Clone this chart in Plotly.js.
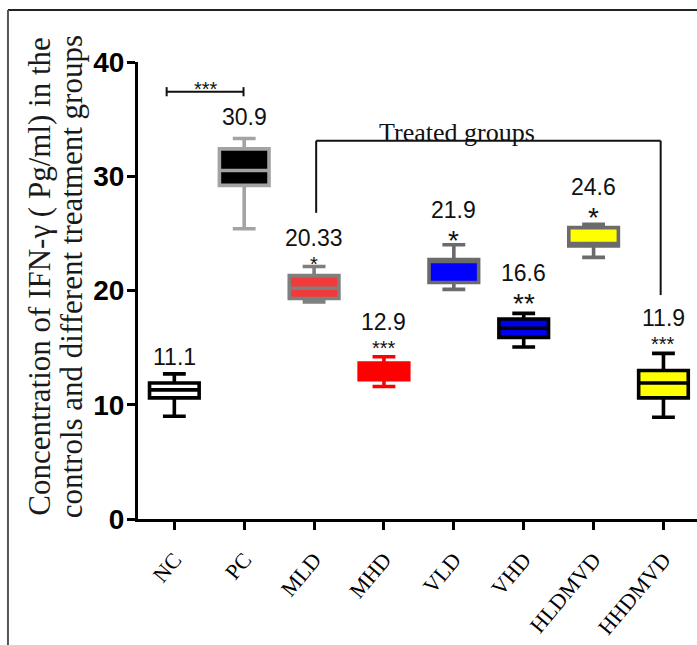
<!DOCTYPE html>
<html>
<head>
<meta charset="utf-8">
<script src="https://cdn.plot.ly/plotly-3.0.1.min.js"></script>
<style>
  html, body { margin: 0; padding: 0; background: #ffffff; }
  #chart { width: 697px; height: 645px; }
</style>
</head>
<body>
<div id="chart"></div>
<script>
// ---- Data ----
const categories   = ['NC', 'PC', 'MLD', 'MHD', 'VLD', 'VHD', 'HLDMVD', 'HHDMVD'];
const lowerWhisker = [9.0, 25.4, 19.0, 11.6, 20.1, 15.05, 22.9, 8.9];
const q1Values     = [10.6, 29.2, 19.3, 12.2, 20.7, 15.9, 23.9, 10.6];
const medianValues = [11.3, 30.5, 20.2, 12.9, 22.55, 16.7, 24.1, 11.9];
const q3Values     = [11.9, 32.4, 21.3, 13.65, 22.7, 17.5, 25.5, 13.0];
const upperWhisker = [12.7, 33.3, 22.1, 14.2, 24.0, 18.0, 25.8, 14.5];
const meanLabels   = ['11.1', '30.9', '20.33', '12.9', '21.9', '16.6', '24.6', '11.9'];
const starLabels   = ['', '', '*', '***', '*', '**', '*', '***'];
const yTickValues  = [0, 10, 20, 30, 40];

// ---- Styles and label placement ----
const fillColors = ['#ffffff', '#000000', '#f23a3a', '#ff0000', '#0000ff', '#0000ee', '#ffff00', '#ffff00'];
const lineColors = ['#000000', '#a3a3a3', '#7f7f7f', '#ff0000', '#6b6b6b', '#000000', '#6b6b6b', '#000000'];
// y where a label ends and its stars begin (or label centre when there are no stars)
const labelY     = [14.2, 35.2, 23.37, 16.02, 25.82, 20.31, 27.83, 16.37];
const starSize   = [0, 0, 20, 20, 28, 28, 28, 20];

const traces = categories.map((c, i) => ({
  type: 'box',
  x: [c],
  q1: [q1Values[i]],
  median: [medianValues[i]],
  q3: [q3Values[i]],
  lowerfence: [lowerWhisker[i]],
  upperfence: [upperWhisker[i]],
  width: 0.71,
  whiskerwidth: 0.46,
  fillcolor: fillColors[i],
  line: { color: lineColors[i], width: 3.6 },
  boxpoints: false,
  hoverinfo: 'skip',
  showlegend: false
}));

const valueFont = { family: 'Liberation Sans, Arial, sans-serif', size: 23, color: '#111111' };
const annotations = [];
categories.forEach((c, i) => {
  const hasStars = !!starLabels[i];
  annotations.push({
    x: c, y: labelY[i], xref: 'x', yref: 'y', text: meanLabels[i],
    showarrow: false, font: valueFont, xanchor: 'center',
    yanchor: hasStars ? 'bottom' : 'middle', borderpad: 0
  });
  if (hasStars) {
    annotations.push({
      x: c, y: labelY[i], xref: 'x', yref: 'y', text: starLabels[i],
      showarrow: false, xanchor: 'center', yanchor: 'top', borderpad: 0,
      font: { family: 'Liberation Sans, Arial, sans-serif', size: starSize[i], color: '#111111' }
    });
  }
});
// significance stars for PC vs NC bracket
annotations.push({
  x: 0.45, y: 37.6, xref: 'x', yref: 'y', text: '***', showarrow: false,
  xanchor: 'center', yanchor: 'middle', borderpad: 0,
  font: { family: 'Liberation Sans, Arial, sans-serif', size: 20, color: '#111111' }
});
// treated groups label
annotations.push({
  x: 4.05, y: 33.8, xref: 'x', yref: 'y', text: 'Treated groups', showarrow: false,
  xanchor: 'center', yanchor: 'middle', borderpad: 0,
  font: { family: 'Liberation Serif, Times New Roman, serif', size: 26, color: '#111111' }
});
// y axis title (two lines)
const titleFont = { family: 'Liberation Serif, Times New Roman, serif', size: 31, color: '#1a1a1a' };
annotations.push({
  x: -0.1753, y: 0.53, xref: 'paper', yref: 'paper', textangle: -90, showarrow: false,
  xanchor: 'center', yanchor: 'middle', text: 'Concentration of IFN-γ ( Pg/ml) in the', font: titleFont
});
annotations.push({
  x: -0.1190, y: 0.53, xref: 'paper', yref: 'paper', textangle: -90, showarrow: false,
  xanchor: 'center', yanchor: 'middle', text: 'controls and different treatment groups', font: titleFont
});

const shapes = [
  // NC vs PC bracket
  { type: 'line', xref: 'x', yref: 'y', x0: -0.11, x1: 0.99, y0: 37.4, y1: 37.4, line: { color: '#111', width: 2 } },
  { type: 'line', xref: 'x', yref: 'y', x0: -0.11, x1: -0.11, y0: 37.0, y1: 37.8, line: { color: '#111', width: 2 } },
  { type: 'line', xref: 'x', yref: 'y', x0: 0.99, x1: 0.99, y0: 37.0, y1: 37.8, line: { color: '#111', width: 2 } },
  // treated groups bracket
  { type: 'line', xref: 'x', yref: 'y', x0: 2.03, x1: 6.96, y0: 33.1, y1: 33.1, line: { color: '#111', width: 2 } },
  { type: 'line', xref: 'x', yref: 'y', x0: 2.03, x1: 2.03, y0: 33.1, y1: 26.8, line: { color: '#111', width: 2 } },
  { type: 'line', xref: 'x', yref: 'y', x0: 6.96, x1: 6.96, y0: 33.1, y1: 19.6, line: { color: '#111', width: 2 } },
  // outer frame (top and left)
  { type: 'line', xref: 'paper', yref: 'paper', x0: -0.2326, x1: 1.0, y0: 1.1138, y1: 1.1138, line: { color: '#222', width: 2 } },
  { type: 'line', xref: 'paper', yref: 'paper', x0: -0.2326, x1: -0.2326, y0: 1.1138, y1: -0.2757, line: { color: '#555', width: 2 } }
];

const layout = {
  width: 697,
  height: 645,
  margin: { l: 138, r: 0, t: 62, b: 126, pad: 0 },
  paper_bgcolor: '#ffffff',
  plot_bgcolor: '#ffffff',
  showlegend: false,
  xaxis: {
    type: 'category',
    categoryorder: 'array',
    categoryarray: categories,
    range: [-0.52, 7.48],
    showline: true, linecolor: '#000', linewidth: 3,
    ticks: 'outside', ticklen: 8, tickwidth: 3, tickcolor: '#000',
    tickangle: -50,
    ticklabelstandoff: 8,
    tickfont: { family: 'Liberation Serif, Times New Roman, serif', size: 22, color: '#000000' },
    showgrid: false, zeroline: false, fixedrange: true
  },
  yaxis: {
    range: [0, 40],
    tickvals: yTickValues,
    ticktext: yTickValues.map(String),
    showline: true, linecolor: '#000', linewidth: 3,
    ticks: 'outside', ticklen: 8, tickwidth: 3, tickcolor: '#000',
    ticklabelstandoff: -3,
    tickfont: { family: 'Liberation Sans, Arial, sans-serif', size: 28, color: '#000', weight: 'bold' },
    showgrid: false, zeroline: false, fixedrange: true
  },
  annotations: annotations,
  shapes: shapes
};

Plotly.newPlot('chart', traces, layout, { staticPlot: true, displayModeBar: false });
</script>
</body>
</html>
